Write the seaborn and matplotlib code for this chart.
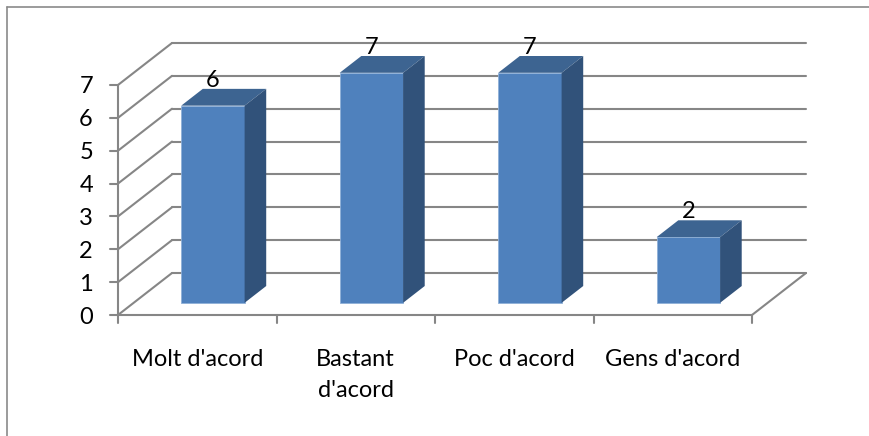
import numpy as np
import matplotlib
matplotlib.use("Agg")
import matplotlib.pyplot as plt
from matplotlib.patches import Polygon
from matplotlib.lines import Line2D
import seaborn as sns

# Dades
categories = ["Molt d'acord", "Bastant\nd'acord", "Poc d'acord", "Gens d'acord"]
values = [6, 7, 7, 2]
yticks = [0, 1, 2, 3, 4, 5, 6, 7]

sns.set_theme(style="white")
plt.rcParams['font.family'] = ['Lato', 'DejaVu Sans']

W, H = 870, 436
fig = plt.figure(figsize=(W / 100, H / 100), dpi=100)
ax = fig.add_axes([0, 0, 1, 1])

# escala en pixels
px_cat = 158.5      # pixels per categoria
px_val = 32.86      # pixels per unitat
x0_px, y0_px = 118, 315
DX = 54 / px_cat    # profunditat 3D
DY = 42 / px_val
F0, F1 = 0.29, 0.69  # posicio de la barra dins la profunditat
bar_w = 0.4
fs = 17

front_col = '#4F81BD'
top_col = '#3D6491'
side_col = '#31527A'
grid_col = '#868686'

n = len(categories)
left = -0.5
right = left + n

# barres frontals amb seaborn
sns.barplot(x=list(range(n)), y=values, width=bar_w, color=front_col,
            saturation=1, ax=ax, zorder=3, linewidth=0.6, edgecolor='#8fb0d8')

sx, sy = DX * F0, DY * F0
dxb, dyb = DX * (F1 - F0), DY * (F1 - F0)
for p, v in zip(ax.patches, values):
    p.set_x(p.get_x() + sx)
    p.set_y(sy)
    L, R = p.get_x(), p.get_x() + p.get_width()
    B, T = sy, sy + v
    ax.add_patch(Polygon([(L, T), (R, T), (R + dxb, T + dyb), (L + dxb, T + dyb)],
                         closed=True, facecolor=top_col, edgecolor='none', zorder=3))
    ax.add_patch(Polygon([(R, B), (R + dxb, B + dyb), (R + dxb, T + dyb), (R, T)],
                         closed=True, facecolor=side_col, edgecolor='none', zorder=3))
    ax.text((L + R) / 2, T + dyb + 2 / px_val, f"{v}", ha='center', va='baseline',
            fontsize=fs, color='black', zorder=4)

# graella 3D
lw = 1.5
for v in yticks:
    ax.plot([left + DX, right + DX], [v + DY, v + DY], color=grid_col, lw=lw, zorder=1)
    ax.plot([left, left + DX], [v, v + DY], color=grid_col, lw=lw, zorder=1)
    ax.plot([left - 8 / px_cat, left], [v, v], color=grid_col, lw=lw, zorder=2)
    ax.text(left - 25 / px_cat, v, f"{v}", ha='right', va='center_baseline',
            fontsize=fs, color='black')
ax.plot([left, left], [0, max(yticks)], color=grid_col, lw=lw, zorder=2)
ax.plot([left, right], [0, 0], color=grid_col, lw=lw, zorder=2)
ax.plot([right, right + DX], [0, DY], color=grid_col, lw=lw, zorder=1)
for k in range(n + 1):
    ax.plot([left + k, left + k], [0, -8 / px_val], color=grid_col, lw=lw, zorder=2)

# etiquetes de categoria (una linia per text)
for i, c in enumerate(categories):
    for j, line in enumerate(c.split("\n")):
        ax.text(i, -(51 + 31 * j) / px_val, line, ha='center', va='baseline',
                fontsize=fs, color='black')

ax.set_xlim(left - x0_px / px_cat, left + (W - x0_px) / px_cat)
ax.set_ylim(-(H - y0_px) / px_val, y0_px / px_val)
ax.axis('off')

# marc
fig.add_artist(Line2D([7 / W, 7 / W], [0, 1 - 7 / H], color='#8A8A8A', lw=1.2))
fig.add_artist(Line2D([7 / W, 1], [1 - 7 / H, 1 - 7 / H], color='#8A8A8A', lw=1.2))

fig.savefig("out.png", dpi=100, facecolor='white')
